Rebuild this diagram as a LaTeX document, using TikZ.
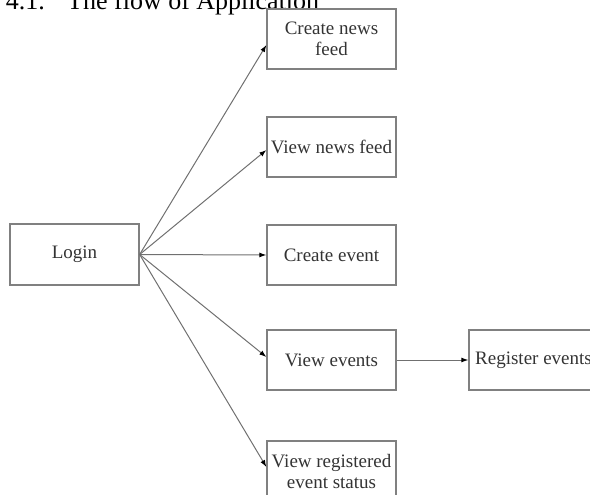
\documentclass[tikz,border=0pt]{standalone}
\usepackage{fontspec}
\setmainfont{Liberation Serif}
\usetikzlibrary{arrows.meta}
\definecolor{boxgray}{HTML}{808080}
\definecolor{linegray}{HTML}{707070}
\definecolor{txtgray}{HTML}{333333}
\begin{document}
\begin{tikzpicture}[x=1pt,y=-1pt,
  box/.style={draw=boxgray, line width=1.3pt, minimum width=129pt, minimum height=60pt,
    inner sep=0pt, align=center, font=\fontsize{19}{21}\selectfont, text=txtgray},
  link/.style={draw=linegray, line width=1pt, -{Latex[length=7pt,width=5pt,color=black]}},
  titletext/.style={inner sep=0pt, font=\fontsize{26}{30}\selectfont}]
\useasboundingbox (0,0) rectangle (590,495);
\clip (0,0) rectangle (590,495);
\node[titletext, anchor=base east] (num) at (45,10) {4.1.};
\node[titletext, anchor=base west] (title) at (67,10) {The flow of Application};
\node[box, minimum height=61pt] (login) at (74.5,254.5) {Login};
\node[box] (cnf) at (331.5,39) {Create news\\feed};
\node[box] (vnf) at (331.5,147) {View news feed};
\node[box] (ce) at (331.5,255) {Create event};
\node[box] (ve) at (331.5,360) {View events};
\node[box] (re) at (533.5,360) {Register events};
\node[box] (vres) at (331.5,471) {View registered\\event status};
\draw[link] (login.east) -- ([yshift=-6pt]cnf.west);
\draw[link] (login.east) -- ([yshift=-3pt]vnf.west);
\draw[link] (login.east) -- (ce.west);
\draw[link] (login.east) -- ([yshift=3pt]ve.west);
\draw[link] (login.east) -- ([yshift=4pt]vres.west);
\draw[link] (ve.east) -- (re.west);
\end{tikzpicture}
\end{document}
